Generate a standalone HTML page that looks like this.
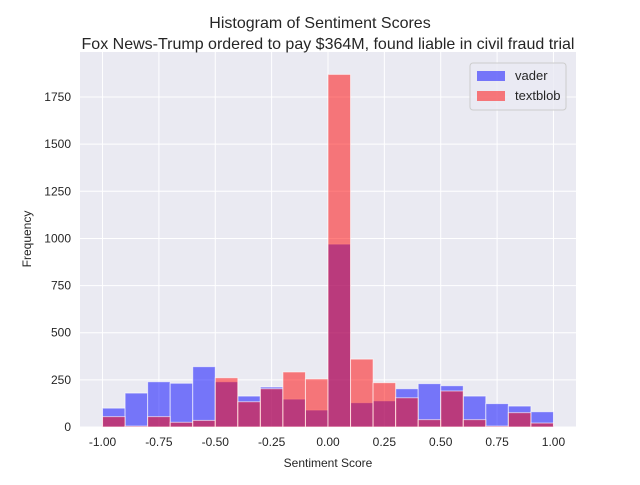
<!DOCTYPE html>
<html><head><meta charset="utf-8"><style>
body{margin:0;background:#fff;font-family:"Liberation Sans",sans-serif}
</style></head><body>
<svg id="c" width="640" height="480" xmlns="http://www.w3.org/2000/svg" font-family="Liberation Sans, sans-serif">
<rect x="80" y="52" width="496" height="375" fill="#eaeaf2"/>
<g id="grid"></g>
<g id="bars"></g>
<g id="ticks" font-size="12" fill="#262626"></g>
<text x="320" y="28" text-anchor="middle" font-size="16" fill="#262626">Histogram of Sentiment Scores</text>
<text x="328" y="49" text-anchor="middle" font-size="16" fill="#262626">Fox News-Trump ordered to pay $364M, found liable in civil fraud trial</text>
<text x="328" y="467" text-anchor="middle" font-size="12" fill="#262626">Sentiment Score</text>
<text transform="translate(31,239) rotate(-90)" text-anchor="middle" font-size="12" fill="#262626">Frequency</text>
<g>
<rect x="470" y="63" width="96" height="47" rx="3" fill="#eaeaf2" fill-opacity="0.8" stroke="#cccccc"/>
<rect x="477" y="71" width="28" height="10" fill="#0000ff" fill-opacity="0.5"/>
<text x="515" y="80" font-size="13" fill="#262626">vader</text>
<rect x="477" y="91" width="28" height="10" fill="#ff0000" fill-opacity="0.5"/>
<text x="515" y="100" font-size="13" fill="#262626">textblob</text>
</g>
</svg>
<script>
const binEdges=[-1,-0.9,-0.8,-0.7,-0.6,-0.5,-0.4,-0.3,-0.2,-0.1,0,0.1,0.2,0.3,0.4,0.5,0.6,0.7,0.8,0.9,1.0];
const vader=[100,180,240,232,320,240,164,212,148,90,970,129,139,203,230,219,164,124,111,81];
const textblob=[55,5,55,25,35,261,134,203,292,255,1870,360,235,155,39,191,39,5,76,21];
const xTicks=[-1,-0.75,-0.5,-0.25,0,0.25,0.5,0.75,1];
const yTicks=[0,250,500,750,1000,1250,1500,1750];
const NS="http://www.w3.org/2000/svg";
const X=v=>80+(v+1.1)/2.2*496;
const Y=v=>427-v/250*47.14;
const grid=document.getElementById('grid'),bars=document.getElementById('bars'),ticks=document.getElementById('ticks');
function mk(tag,attrs,parent){const e=document.createElementNS(NS,tag);for(const k in attrs)e.setAttribute(k,attrs[k]);parent.appendChild(e);return e;}
xTicks.forEach(t=>{
 const l=mk('line',{x1:X(t),x2:X(t),y1:52,y2:427,stroke:'#fff','stroke-width':1},grid);
 
 
 const s=mk('text',{x:X(t),y:446,'text-anchor':'middle'},ticks);
 s.textContent=t.toFixed(2);
 
 
});
yTicks.forEach(t=>{
 const l=mk('line',{x1:80,x2:576,y1:Y(t),y2:Y(t),stroke:'#fff','stroke-width':1},grid);
 
 
 const s=mk('text',{x:71,y:Y(t)+4,'text-anchor':'end'},ticks);
 s.textContent=t;
 
 
});
function series(vals,color,name){
 vals.forEach((v,i)=>{
  const x0=X(binEdges[i]),x1=X(binEdges[i+1]);
  const r=mk('rect',{x:x0,y:Y(v),width:x1-x0,height:Y(0)-Y(v),fill:color,'fill-opacity':0.5,stroke:'#fff','stroke-opacity':0.6,'stroke-width':1},bars);
  
  
 });
}
series(vader,'#0000ff','vader');
series(textblob,'#ff0000','textblob');
</script>
</body></html>
